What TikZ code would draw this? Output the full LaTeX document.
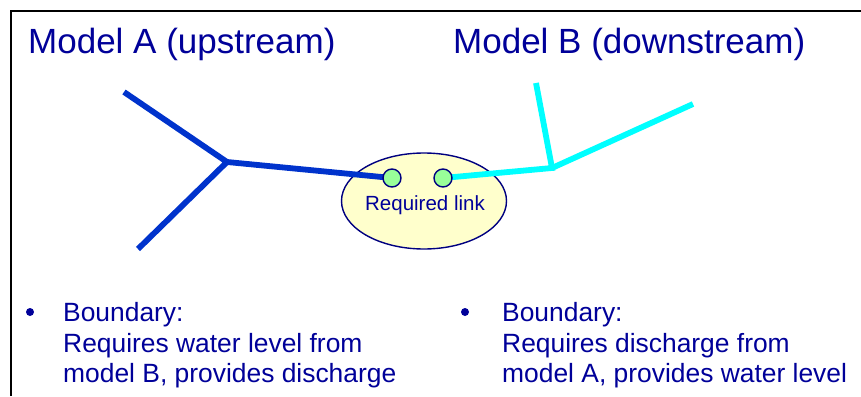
\documentclass[tikz,border=0pt]{standalone}
\usepackage{fontspec}
\setmainfont{Liberation Sans}
\usetikzlibrary{shapes.geometric}
\definecolor{txtblue}{RGB}{0,0,153}
\definecolor{riverA}{RGB}{0,51,204}
\definecolor{riverB}{RGB}{0,255,255}
\definecolor{navy}{RGB}{0,0,128}
\definecolor{lightyellow}{RGB}{255,255,204}
\definecolor{lightgreen}{RGB}{153,255,153}
\begin{document}
\begin{tikzpicture}[x=1pt,y=-1pt,
  title/.style={anchor=base west,inner sep=0pt,text=txtblue,font=\fontsize{35}{42}\selectfont},
  body/.style={anchor=base west,inner sep=0pt,text=txtblue,font=\fontsize{26.4}{31}\selectfont},
  bulletdot/.style={circle,fill=txtblue,inner sep=0pt,minimum size=8pt},
  riverlineA/.style={draw=riverA,line width=5.8pt},
  riverlineB/.style={draw=riverB,line width=5.8pt},
  linkpt/.style={circle,draw=navy,fill=lightgreen,line width=1.4pt,inner sep=0pt,minimum size=18pt},
]
\useasboundingbox (0,0) rectangle (861,396);
% frame
\draw[line width=2pt] (10.5,396) -- (10.5,11.5) -- (861,11.5);
% titles
\node[title] (tA) at (28,53) {Model A (upstream)};
\node[title] (tB) at (453,53) {Model B (downstream)};
% link ellipse
\node[ellipse,draw=navy,fill=lightyellow,line width=1.4pt,minimum width=165pt,minimum height=96pt] (link) at (424,201) {};
\node[anchor=base,inner sep=0pt,text=txtblue,font=\fontsize{20.5}{24}\selectfont] (linklabel) at (425,210) {Required link};
% rivers
\coordinate (a1) at (124,92);
\coordinate (a2) at (138,249);
\coordinate (aj) at (227,162);
\coordinate (pA) at (392,178);
\coordinate (pB) at (443,178);
\coordinate (bj) at (552,168);
\coordinate (b1) at (536,83);
\coordinate (b2) at (693,104);
\draw[riverlineA] (a1) -- (aj) -- (a2);
\draw[riverlineA] (aj) -- (pA);
\draw[riverlineB] (pB) -- (bj) -- (b1);
\draw[riverlineB] (bj) -- (b2);
\node[linkpt] (nA) at (pA) {};
\node[linkpt] (nB) at (pB) {};
% bullets
\node[bulletdot] (bl) at (30,312) {};
\node[body] (l1) at (63,321) {Boundary:};
\node[body] (l2) at (63,352) {Requires water level from};
\node[body] (l3) at (63,382) {model B, provides discharge};
\node[bulletdot] (br) at (465,312) {};
\node[body] (r1) at (502,321) {Boundary:};
\node[body] (r2) at (502,352) {Requires discharge from};
\node[body] (r3) at (502,382) {model A, provides water level};
\end{tikzpicture}
\end{document}
